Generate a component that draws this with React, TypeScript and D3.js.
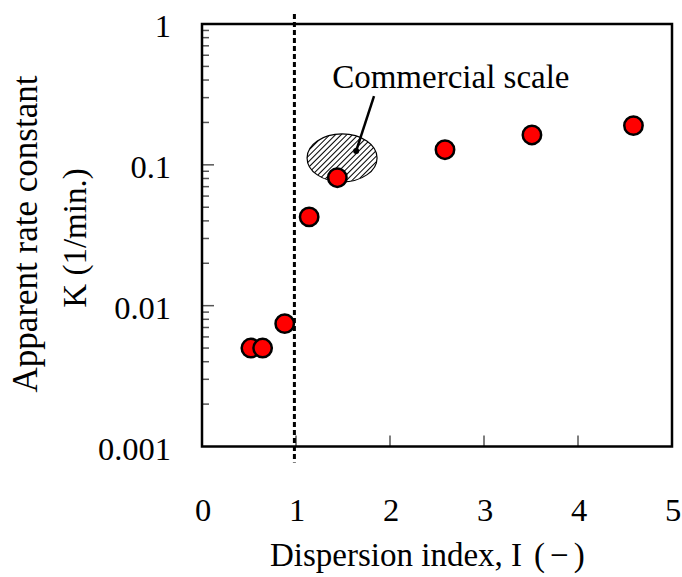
import React, { useEffect, useRef } from "react";
import * as d3 from "d3";

// dispersion index I (-)
const dispersionIndex = [0.52, 0.645, 0.88, 1.14, 1.44, 2.585, 3.51, 4.59];
// apparent rate constant K (1/min.)
const rateConstant = [0.005, 0.005, 0.00745, 0.0427, 0.081, 0.128, 0.163, 0.19];

const xTicks = [0, 1, 2, 3, 4, 5];
const yTicks = [0.001, 0.01, 0.1, 1];
const yTickLabels = ["0.001", "0.01", "0.1", "1"];

// commercial scale region (hatched ellipse)
const commercialCenter = { x: 1.49, k: 0.112 };
const commercialLabel = "Commercial scale";
const leaderStart = { x: 1.64, k: 0.1256 };
const leaderEnd = { x: 1.83, k: 0.308 };
const labelAnchor = { x: 1.385, k: 0.352 };

const criticalIndex = 0.983;

const App = () => {
  const ref = useRef<SVGSVGElement>(null);

  useEffect(() => {
    const W = 682, H = 577;
    const margin = { top: 24, right: 10, bottom: 130.5, left: 202 };
    const font = "'Liberation Serif', 'Times New Roman', serif";

    const svg = d3.select(ref.current);
    svg.selectAll("*").remove();

    const x = d3.scaleLinear().domain([0, 5]).range([margin.left, W - margin.right]);
    const y = d3.scaleLog().domain([0.001, 1]).range([H - margin.bottom, margin.top]);

    const x0 = x(0), x1 = x(5), y0 = y(0.001), y1 = y(1);

    // hatch pattern
    const defs = svg.append("defs");
    const pat = defs.append("pattern")
      .attr("id", "hatch")
      .attr("patternUnits", "userSpaceOnUse")
      .attr("width", 4)
      .attr("height", 4)
      .attr("patternTransform", "rotate(45)");
    pat.append("rect").attr("width", 4).attr("height", 4).attr("fill", "white");
    pat.append("line")
      .attr("x1", 0).attr("y1", 0).attr("x2", 0).attr("y2", 4)
      .attr("stroke", "#000").attr("stroke-width", 2);

    // minor ticks on y axis (inward)
    const minor: number[] = [];
    [0.001, 0.01, 0.1].forEach(d => { for (let i = 2; i <= 9; i++) minor.push(d * i); });
    svg.append("g").selectAll("line")
      .data(minor).enter().append("line")
      .attr("x1", x0).attr("x2", x0 + 7)
      .attr("y1", d => y(d)).attr("y2", d => y(d))
      .attr("stroke", "#555").attr("stroke-width", 1.5);
    // major ticks
    svg.append("g").selectAll("line")
      .data(yTicks.slice(1, 3)).enter().append("line")
      .attr("x1", x0).attr("x2", x0 + 12)
      .attr("y1", d => y(d)).attr("y2", d => y(d))
      .attr("stroke", "#555").attr("stroke-width", 1.5);
    // x ticks (inward)
    svg.append("g").selectAll("line")
      .data(xTicks.slice(1, 5)).enter().append("line")
      .attr("x1", d => x(d)).attr("x2", d => x(d))
      .attr("y1", y0).attr("y2", y0 - 11)
      .attr("stroke", "#555").attr("stroke-width", 1.5);

    // frame
    svg.append("rect")
      .attr("x", x0).attr("y", y1)
      .attr("width", x1 - x0).attr("height", y0 - y1)
      .attr("fill", "none").attr("stroke", "black").attr("stroke-width", 2.5);

    // critical dispersion index
    svg.append("line")
      .attr("x1", x(criticalIndex)).attr("x2", x(criticalIndex))
      .attr("y1", y1 - 10).attr("y2", y0 + 16)
      .attr("stroke", "black").attr("stroke-width", 3)
      .attr("stroke-dasharray", "5,3");

    // commercial scale ellipse
    svg.append("ellipse")
      .attr("cx", x(commercialCenter.x)).attr("cy", y(commercialCenter.k))
      .attr("rx", 35).attr("ry", 24)
      .attr("fill", "url(#hatch)").attr("stroke", "black").attr("stroke-width", 1.2);

    // dots
    svg.append("g").selectAll("circle")
      .data(dispersionIndex).enter().append("circle")
      .attr("cx", d => x(d))
      .attr("cy", (d, i) => y(rateConstant[i]))
      .attr("r", 9.2)
      .attr("fill", "#ff0000")
      .attr("stroke", "black")
      .attr("stroke-width", 2.5);

    // leader line
    svg.append("line")
      .attr("x1", x(leaderStart.x)).attr("y1", y(leaderStart.k))
      .attr("x2", x(leaderEnd.x)).attr("y2", y(leaderEnd.k))
      .attr("stroke", "black").attr("stroke-width", 2.5);
    svg.append("circle")
      .attr("cx", x(leaderStart.x)).attr("cy", y(leaderStart.k))
      .attr("r", 3).attr("fill", "black");

    svg.append("text")
      .attr("x", x(labelAnchor.x)).attr("y", y(labelAnchor.k))
      .attr("font-family", font).attr("font-size", 33)
      .text(commercialLabel);

    // y tick labels
    svg.append("g").selectAll("text")
      .data(yTicks).enter().append("text")
      .attr("x", x0 - 31)
      .attr("y", d => y(d) + 13)
      .attr("text-anchor", "end")
      .attr("font-family", font).attr("font-size", 32.5)
      .text((d, i) => yTickLabels[i]);

    // x tick labels
    svg.append("g").selectAll("text")
      .data(xTicks).enter().append("text")
      .attr("x", d => x(d) + 1)
      .attr("y", 521)
      .attr("text-anchor", "middle")
      .attr("font-family", font).attr("font-size", 32.5)
      .text(d => String(d));

    // x title
    const xt = svg.append("text")
      .attr("x", 270).attr("y", 566)
      .attr("font-family", font).attr("font-size", 33);
    xt.append("tspan").text("Dispersion index, I");
    xt.append("tspan").attr("dx", 12).text("(");
    xt.append("tspan").attr("dx", 5).text("\u2212");
    xt.append("tspan").attr("dx", 5).text(")");

    // y title
    svg.append("text")
      .attr("transform", "translate(37,234) rotate(-90)")
      .attr("text-anchor", "middle")
      .attr("font-family", font).attr("font-size", 35)
      .text("Apparent rate constant");
    svg.append("text")
      .attr("transform", "translate(86,238) rotate(-90)")
      .attr("text-anchor", "middle")
      .attr("font-family", font).attr("font-size", 33)
      .text("K (1/min.)");
  }, []);

  return (
    <div style={{ position: "absolute", left: 0, top: 0 }}>
      <svg ref={ref} width={682} height={577} style={{ display: "block", background: "white" }} />
    </div>
  );
};

export default App;
